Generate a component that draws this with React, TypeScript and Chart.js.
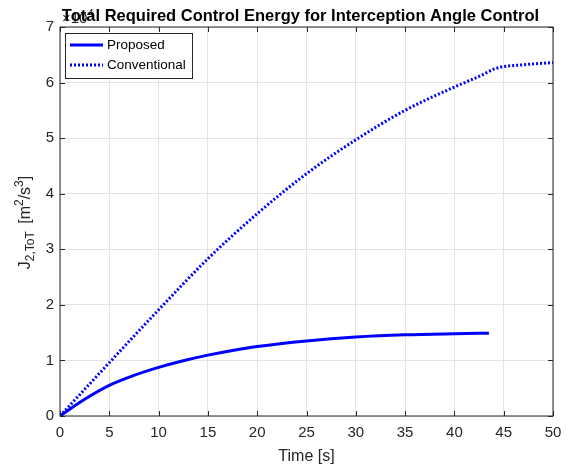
import React, { useEffect, useRef } from "react";
import { Chart, registerables } from "chart.js";

Chart.register(...registerables);

const titleText = "Total Required Control Energy for Interception Angle Control";
const xAxisLabel = "Time [s]";
const yExponent = "4";
const seriesNames = ["Proposed", "Conventional"];
const xRange = [0, 50];
const yRange = [0, 7];

const proposedTime = [0, 2.5, 5, 7.5, 10, 12.5, 15, 17.5, 20, 25, 30, 35, 40, 43.5];
const proposedJ = [0, 0.3, 0.55, 0.73, 0.875, 0.995, 1.095, 1.18, 1.25, 1.35, 1.42, 1.46, 1.48, 1.49];

const conventionalTime = [0, 5, 10, 15, 20, 25, 30, 35, 40, 42.5, 44.3, 47, 50];
const conventionalJ = [0, 0.96, 1.91, 2.83, 3.64, 4.36, 4.97, 5.5, 5.92, 6.11, 6.26, 6.32, 6.36];

const FONT = '"Liberation Sans", Arial, Helvetica, sans-serif';
const AX = "#262626";

const toPoints = (xs: number[], ys: number[]) => xs.map((x, i) => ({ x, y: ys[i] }));

const matlabPlugin = {
  id: "matlabDecor",
  afterDraw(chart: any) {
    const { ctx, chartArea: a, scales } = chart;
    ctx.save();
    // box
    ctx.strokeStyle = AX;
    ctx.lineWidth = 1;
    ctx.strokeRect(a.left, a.top, a.right - a.left, a.bottom - a.top);
    // inward ticks
    const tl = 5;
    ctx.beginPath();
    scales.x.ticks.forEach((t: any) => {
      const px = Math.round(scales.x.getPixelForValue(t.value)) + 0.5;
      ctx.moveTo(px, a.bottom);
      ctx.lineTo(px, a.bottom - tl);
      ctx.moveTo(px, a.top);
      ctx.lineTo(px, a.top + tl);
    });
    scales.y.ticks.forEach((t: any) => {
      const py = Math.round(scales.y.getPixelForValue(t.value)) + 0.5;
      ctx.moveTo(a.left, py);
      ctx.lineTo(a.left + tl, py);
      ctx.moveTo(a.right, py);
      ctx.lineTo(a.right - tl, py);
    });
    ctx.stroke();

    // legend
    const lx = 65, ly = 33, lw = 127, lh = 45;
    ctx.fillStyle = "#ffffff";
    ctx.fillRect(lx, ly, lw, lh);
    ctx.strokeStyle = AX;
    ctx.lineWidth = 1;
    ctx.strokeRect(lx + 0.5, ly + 0.5, lw, lh);
    ctx.font = `13.5px ${FONT}`;
    ctx.textBaseline = "middle";
    ctx.textAlign = "left";
    chart.data.datasets.forEach((ds: any, i: number) => {
      const yy = ly + 12 + i * 20;
      ctx.strokeStyle = ds.borderColor;
      ctx.lineWidth = ds.borderWidth;
      ctx.setLineDash(ds.borderDash || []);
      ctx.beginPath();
      ctx.moveTo(lx + 5, yy);
      ctx.lineTo(lx + 38, yy);
      ctx.stroke();
      ctx.setLineDash([]);
      ctx.fillStyle = "#000000";
      ctx.fillText(ds.label, lx + 42, yy + 0.5);
    });

    // exponent label
    ctx.fillStyle = AX;
    ctx.textBaseline = "alphabetic";
    ctx.textAlign = "left";
    ctx.font = `15px ${FONT}`;
    const base = "\u00d710";
    ctx.fillText(base, a.left + 2, 23);
    const bw = ctx.measureText(base).width;
    ctx.font = `11px ${FONT}`;
    ctx.fillText(yExponent, a.left + 2 + bw, 17);

    // title
    ctx.fillStyle = "#000000";
    ctx.font = `bold 16.5px ${FONT}`;
    ctx.textAlign = "center";
    ctx.fillText(titleText, (a.left + a.right) / 2 - 6, 21);

    // x label
    ctx.fillStyle = AX;
    ctx.font = `16px ${FONT}`;
    ctx.fillText(xAxisLabel, (a.left + a.right) / 2, 461);

    // y label with sub/superscripts
    const segs = [
      { t: "J", s: 16, dy: 0, gap: 0 },
      { t: "2,ToT", s: 12, dy: 4, gap: 0 },
      { t: " [m", s: 16, dy: 0, gap: 3 },
      { t: "2", s: 12, dy: -7, gap: 0 },
      { t: "/s", s: 16, dy: 0, gap: 0 },
      { t: "3", s: 12, dy: -7, gap: 0 },
      { t: "]", s: 16, dy: 0, gap: 0 },
    ];
    let total = 0;
    segs.forEach((g) => {
      ctx.font = `${g.s}px ${FONT}`;
      total += ctx.measureText(g.t).width + g.gap;
    });
    ctx.save();
    ctx.translate(30, (a.top + a.bottom) / 2 + 1);
    ctx.rotate(-Math.PI / 2);
    ctx.textAlign = "left";
    let cx = -total / 2;
    segs.forEach((g) => {
      ctx.font = `${g.s}px ${FONT}`;
      cx += g.gap;
      ctx.fillText(g.t, cx, g.dy);
      cx += ctx.measureText(g.t).width;
    });
    ctx.restore();

    ctx.restore();
  },
};

export default function App() {
  const ref = useRef<HTMLCanvasElement | null>(null);
  useEffect(() => {
    if (!ref.current) return;
    const chart = new Chart(ref.current, {
      type: "line",
      data: {
        datasets: [
          {
            label: seriesNames[0],
            data: toPoints(proposedTime, proposedJ),
            borderColor: "#0000ff",
            borderWidth: 3,
            pointRadius: 0,
            cubicInterpolationMode: "monotone",
            fill: false,
          },
          {
            label: seriesNames[1],
            data: toPoints(conventionalTime, conventionalJ),
            borderColor: "#0000ff",
            borderWidth: 3,
            borderDash: [2, 2],
            borderCapStyle: "butt",
            pointRadius: 0,
            cubicInterpolationMode: "monotone",
            fill: false,
          },
        ],
      } as any,
      options: {
        responsive: false,
        animation: false,
        devicePixelRatio: 1,
        layout: { padding: { top: 27, right: 24, left: 0, bottom: 0 } },
        plugins: { legend: { display: false }, title: { display: false }, tooltip: { enabled: false } },
        scales: {
          x: {
            type: "linear",
            min: xRange[0],
            max: xRange[1],
            ticks: { stepSize: 5, color: AX, font: { family: FONT, size: 15 }, padding: 8, maxRotation: 0 },
            grid: { color: "#e4e4e4", drawTicks: false, lineWidth: 1 },
            border: { display: false },
            afterFit: (s: any) => {
              s.height = 52;
              s.paddingLeft = 0;
              s.paddingRight = 0;
            },
          },
          y: {
            type: "linear",
            min: yRange[0],
            max: yRange[1],
            ticks: { stepSize: 1, color: AX, font: { family: FONT, size: 15 }, padding: 6 },
            grid: { color: "#e4e4e4", drawTicks: false, lineWidth: 1 },
            border: { display: false },
            afterFit: (s: any) => {
              s.width = 60;
              s.paddingTop = 0;
              s.paddingBottom = 0;
            },
          },
        },
      } as any,
      plugins: [matlabPlugin],
    });
    return () => chart.destroy();
  }, []);
  return (
    <div style={{ position: "fixed", left: 0, top: 0, width: 577, height: 468, background: "#ffffff" }}>
      <canvas ref={ref} width={577} height={468} />
    </div>
  );
}
